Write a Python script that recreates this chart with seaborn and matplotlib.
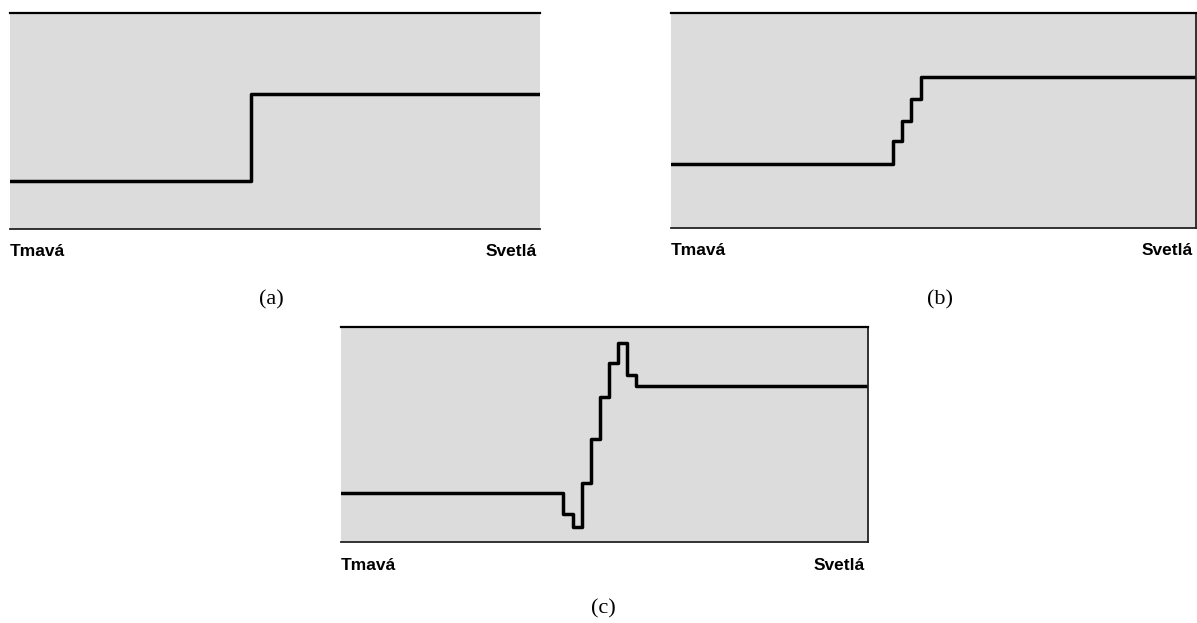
import matplotlib
matplotlib.use("Agg")
import matplotlib.pyplot as plt
import seaborn as sns
import pandas as pd

sns.set_style("white")
plt.rcParams['font.family'] = ['Liberation Sans', 'DejaVu Sans']
plt.rcParams['text.color'] = 'black'

# Step profiles (x = position from dark to light, y = level), fractions of panel
a_x = [0.0, 0.455, 1.0]
a_y = [0.222, 0.625, 0.625]

b_x = [0.0, 0.423, 0.440, 0.457, 0.476, 1.0]
b_y = [0.298, 0.405, 0.498, 0.600, 0.702, 0.702]

c_x = [0.0, 0.421, 0.440, 0.457, 0.474, 0.491, 0.509, 0.526, 0.543, 0.560, 1.0]
c_y = [0.228, 0.130, 0.070, 0.274, 0.479, 0.674, 0.833, 0.926, 0.777, 0.726, 0.726]

left_label = "Tmavá"
right_label = "Svetlá"
panel_labels = ["(a)", "(b)", "(c)"]

W, H = 1197, 623
fig = plt.figure(figsize=(W / 100, H / 100), dpi=100)

# panel boxes in pixels: left, right, top, bottom, right spine shown
boxes = [
    (9.5, 540, 13, 229, False),
    (671, 1196, 13, 228, True),
    (341, 868, 327, 542, True),
]
label_pos = [(271, 300), (940, 300), (603, 609)]
data = [(a_x, a_y), (b_x, b_y), (c_x, c_y)]
sans = ["Liberation Sans", "DejaVu Sans"]

for (l, r, t, b, rs), (xs, ys), lab, (lx, ly) in zip(boxes, data, panel_labels, label_pos):
    ax = fig.add_axes([l / W, 1 - b / H, (r - l) / W, (b - t) / H])
    ax.set_facecolor("#dcdcdc")
    df = pd.DataFrame({"x": xs, "y": ys})
    sns.lineplot(data=df, x="x", y="y", ax=ax, drawstyle="steps-post",
                 color="black", linewidth=2.5, estimator=None, sort=False)
    ax.set_xlim(0, 1)
    ax.set_ylim(0, 1)
    ax.set_xticks([])
    ax.set_yticks([])
    ax.set_xlabel("")
    ax.set_ylabel("")
    for s in ["left", "right", "top", "bottom"]:
        ax.spines[s].set_visible(False)
    ax.spines["top"].set_visible(True)
    ax.spines["top"].set_color("black")
    ax.spines["top"].set_linewidth(1.6)
    ax.spines["bottom"].set_visible(True)
    ax.spines["bottom"].set_color("#222222")
    ax.spines["bottom"].set_linewidth(1.3)
    if rs:
        ax.spines["right"].set_visible(True)
        ax.spines["right"].set_color("#222222")
        ax.spines["right"].set_linewidth(1.3)
    ax.annotate(left_label, xy=(0, 0), xycoords="axes fraction",
                xytext=(0, -23 * 0.72), textcoords="offset points",
                ha="left", va="center", fontsize=12.5, fontweight="bold",
                family=sans, color="black")
    ax.annotate(right_label, xy=(1, 0), xycoords="axes fraction",
                xytext=(-3 * 0.72, -23 * 0.72), textcoords="offset points",
                ha="right", va="center", fontsize=12.5, fontweight="bold",
                family=sans, color="black")
    fig.text(lx / W, 1 - ly / H, lab, ha="center", va="center",
             fontsize=16, family=["Liberation Serif", "DejaVu Serif"],
             color="black")

fig.savefig("out.png", dpi=100)
